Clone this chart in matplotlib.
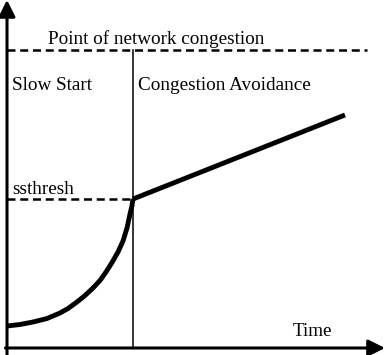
import matplotlib
matplotlib.use("Agg")
import matplotlib.pyplot as plt

# slow start phase (time units, cwnd units)
slow_start_time = [0, 0.413, 0.825, 1.270, 1.683, 1.937, 2.222, 2.476, 2.730,
                   2.952, 3.143, 3.333, 3.524, 3.683, 3.810, 3.905, 3.968, 4.0]
slow_start_cwnd = [0.738, 0.789, 0.872, 0.990, 1.174, 1.326, 1.544, 1.762, 2.013,
                   2.265, 2.550, 2.869, 3.221, 3.591, 4.027, 4.497, 4.782, 5.0]

# congestion avoidance phase (straight line)
avoid_time = [4.0, 10.73]
avoid_cwnd = [5.0, 7.82]

ssthresh = 5.0
congestion_point = 10.0
congestion_end = 11.43
x_max = 12.0
y_max = 11.68

plt.rcParams['font.family'] = ['Liberation Serif', 'DejaVu Serif']

fig = plt.figure(figsize=(3.87, 3.55), dpi=100)
ax = fig.add_axes([0, 0, 1, 1])
ax.set_xlim(-7 / 31.5, 380 / 31.5)
ax.set_ylim(-7 / 29.8, 348 / 29.8)
ax.axis('off')

arrow = dict(arrowstyle='-|>,head_length=0.5,head_width=0.25', lw=2.2,
             color='black', mutation_scale=20, shrinkA=0, shrinkB=0)
ax.annotate('', xy=(0, y_max), xytext=(0, -0.3), arrowprops=arrow)
ax.annotate('', xy=(x_max, 0), xytext=(-0.05, 0), arrowprops=arrow)

# dashed reference levels
ax.plot([0, congestion_end], [congestion_point, congestion_point], color='black',
        lw=1.8, dashes=(3.2, 1.9))
ax.plot([0, slow_start_time[-1]], [ssthresh, ssthresh], color='black',
        lw=1.8, dashes=(3.2, 1.9))

# phase boundary
ax.plot([4.0, 4.0], [0, congestion_point], color='black', lw=1.1)

ax.plot(slow_start_time, slow_start_cwnd, color='black', lw=3.5,
        solid_capstyle='butt', solid_joinstyle='round')
ax.plot(avoid_time, avoid_cwnd, color='black', lw=3.5, solid_capstyle='butt')

fs = 13.8
ax.text(1.3, 10.2, 'Point of network congestion', fontsize=fs, va='baseline')
ax.text(0.16, 8.66, 'Slow Start', fontsize=fs, va='baseline')
ax.text(4.16, 8.66, 'Congestion Avoidance', fontsize=fs, va='baseline')
ax.text(0.16, 5.17, 'ssthresh', fontsize=fs, va='baseline')
ax.text(9.08, 0.4, 'Time', fontsize=fs, va='baseline')

fig.savefig('out.png', dpi=100)
